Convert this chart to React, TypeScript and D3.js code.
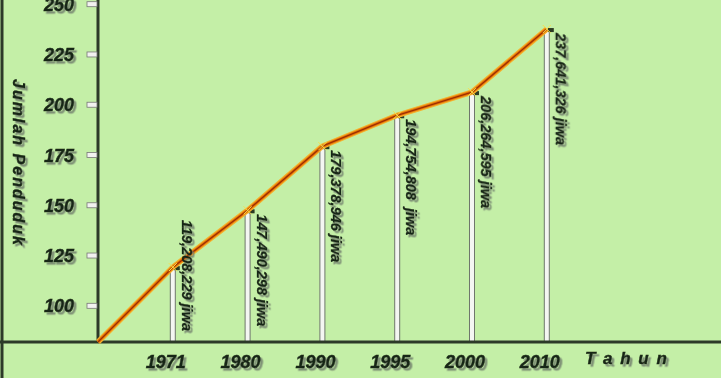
import React from "react";
import * as d3 from "d3";

const years = ["1971", "1980", "1990", "1995", "2000", "2010"];
const population = [119.208229, 147.490298, 179.378946, 194.754808, 206.264595, 237.641326];
const valueLabels = [
  "119,208,229 jiwa",
  "147,490,298 jiwa",
  "179,378,946 jiwa",
  "194,754,808  jiwa",
  "206,264,595 jiwa",
  "237,641,326 jiwa",
];
const yTicks = [100, 125, 150, 175, 200, 225, 250];
const baselineValue = 82;
const yTitle = "Jumlah Penduduk";
const xTitle = "T a h u n";

const W = 721;
const H = 378;
const FONT = "'Liberation Sans', Arial, sans-serif";
const INK = "#182615";

export default function App() {
  const x = d3
    .scalePoint<string>()
    .domain(["origin", ...years, "xtitle"])
    .range([98, 98 + 7 * 74.8]);
  const y = d3.scaleLinear().domain([100, 250]).range([305.8, 4.2]);
  const axisY = y(baselineValue);

  const pts: [number, number][] = [
    [x("origin")!, y(baselineValue)],
    ...years.map((yr, i) => [x(yr)!, y(population[i])] as [number, number]),
  ];
  const line = d3.line()(pts) || "";

  const textProps = {
    fontFamily: FONT,
    fontWeight: "bold" as const,
    fontStyle: "italic" as const,
    fill: INK,
    stroke: INK,
    strokeWidth: 0.45,
  };

  return (
    <div style={{ position: "absolute", left: 0, top: 0 }}>
      <svg width={W} height={H} style={{ display: "block" }}>
        <defs>
          <filter id="shadow" x="-20%" y="-20%" width="140%" height="140%">
            <feDropShadow dx={2.5} dy={2.5} stdDeviation={0.7} floodColor="#74836e" floodOpacity={0.85} />
          </filter>
        </defs>
        <rect x={0} y={0} width={W} height={H} fill="#c4efa7" />
        {/* left border */}
        <line x1={2} x2={2} y1={0} y2={H} stroke="#2c3a28" strokeWidth={3} />
        {/* bars */}
        {years.map((yr, i) => {
          const cx = x(yr)!;
          const top = y(population[i]);
          return (
            <g key={yr}>
              <rect x={cx - 2.5} y={top} width={5} height={axisY - top} fill="#f4f6f2" stroke="#6f776c" strokeWidth={1} />
              <rect x={cx + 1} y={top - 1} width={6} height={4} fill="#2b3a22" />
            </g>
          );
        })}
        {/* axes */}
        <line x1={98} x2={98} y1={0} y2={axisY} stroke="#2c3a28" strokeWidth={3} />
        <line x1={0} x2={W} y1={axisY} y2={axisY} stroke="#2c3a28" strokeWidth={3} />
        {/* y ticks */}
        <g filter="url(#shadow)">
          {yTicks.map((t) => (
            <text key={t} x={74} y={y(t) + 6.5} textAnchor="end" fontSize={18} {...textProps}>
              {t}
            </text>
          ))}
        </g>
        {yTicks.map((t) => (
          <rect key={t} x={87} y={y(t) - 2.5} width={10} height={5} fill="#f2f2f0" stroke="#777" strokeWidth={0.8} />
        ))}
        {/* line */}
        <path d={line} fill="none" stroke="#f6b02a" strokeWidth={5.5} strokeLinejoin="round" />
        <path d={line} fill="none" stroke="#e2760a" strokeWidth={3.2} strokeLinejoin="round" />
        <path d={line} fill="none" stroke="#9e2e00" strokeWidth={1.3} strokeLinejoin="round" />
        {pts.slice(1).map(([px, py], i) => (
          <g key={i} stroke="#f7e04a" strokeWidth={1}>
            <line x1={px - 4} x2={px + 4} y1={py - 4} y2={py + 4} />
            <line x1={px - 4} x2={px + 4} y1={py + 4} y2={py - 4} />
          </g>
        ))}
        {/* value labels */}
        <g filter="url(#shadow)">
          {years.map((yr, i) => {
            const cx = x(yr)! + 9;
            const top = y(population[i]);
            const len = 114;
            const start = Math.min(top + 4, 334 - len);
            return (
              <text
                key={yr}
                transform={`translate(${cx},${start}) rotate(90)`}
                fontSize={14.5}
                style={{ whiteSpace: "pre" }}
                {...textProps}
                strokeWidth={0.3}
              >
                {valueLabels[i]}
              </text>
            );
          })}
        </g>
        {/* x tick labels */}
        <g filter="url(#shadow)">
          {years.map((yr) => (
            <text key={yr} x={x(yr)! - 7} y={368} textAnchor="middle" fontSize={18} {...textProps}>
              {yr}
            </text>
          ))}
          <text x={x("xtitle")! + 5} y={364} textAnchor="middle" fontSize={17} letterSpacing={1.5} style={{ whiteSpace: "pre" }} {...textProps}>
            {xTitle}
          </text>
          {/* y title */}
          <text
            transform={`translate(13,163) rotate(90)`}
            textAnchor="middle"
            fontSize={16}
            letterSpacing={2}
            {...textProps}
          >
            {yTitle}
          </text>
        </g>
      </svg>
    </div>
  );
}
